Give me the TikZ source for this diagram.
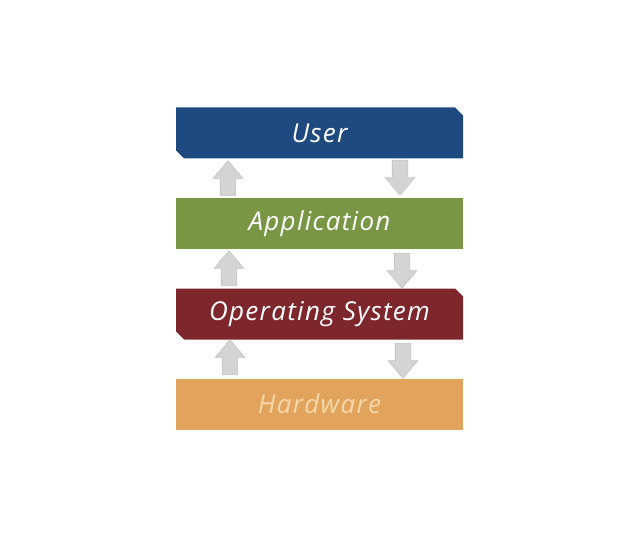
\documentclass[tikz,border=0pt]{standalone}
\usepackage{fontspec}
\setmainfont{Open Sans}
\newfontfamily\layerfont[LetterSpace=5]{Open Sans}
\usetikzlibrary{shapes.arrows,shapes.misc}
\definecolor{userblue}{RGB}{31,74,128}
\definecolor{appgreen}{RGB}{120,150,68}
\definecolor{osred}{RGB}{125,38,44}
\definecolor{hworange}{RGB}{226,163,92}
\definecolor{hwtext}{RGB}{245,215,170}
\definecolor{arrfill}{RGB}{212,212,212}
\definecolor{arrdraw}{RGB}{195,195,195}
\tikzset{
  layer/.style={minimum width=287pt, minimum height=51pt, inner sep=0pt,
    text=white, font=\layerfont\itshape\fontsize{26}{30}\selectfont},
  snip/.style={chamfered rectangle, chamfered rectangle corners={north east, south west},
    chamfered rectangle xsep=4pt, chamfered rectangle ysep=4pt},
  flow/.style={single arrow, draw=arrdraw, fill=arrfill, line width=0.6pt,
    inner xsep=0pt, inner ysep=7.5pt, single arrow head extend=7pt,
    single arrow tip angle=80, minimum height=35pt, anchor=tail}
}
\begin{document}
\begin{tikzpicture}[x=1pt,y=-1pt]
\useasboundingbox (0,0) rectangle (640,548);
\node[layer, snip, fill=userblue] (user) at (319.5,133) {User};
\node[layer, fill=appgreen] (app) at (319.5,223.5) {Application};
\node[layer, snip, fill=osred] (os) at (319.5,314) {Operating System};
\node[layer, fill=hworange, text=hwtext] (hw) at (319.5,404) {Hardware};
% up arrows (left)
\node[flow, rotate=90] (u1) at (228,196) {};
\node[flow, rotate=90] (u2) at (229,286) {};
\node[flow, rotate=90] (u3) at (230,375) {};
% down arrows (right)
\node[flow, rotate=-90] (d1) at (400,160) {};
\node[flow, rotate=-90] (d2) at (402,253) {};
\node[flow, rotate=-90] (d3) at (403,343) {};
\end{tikzpicture}
\end{document}
